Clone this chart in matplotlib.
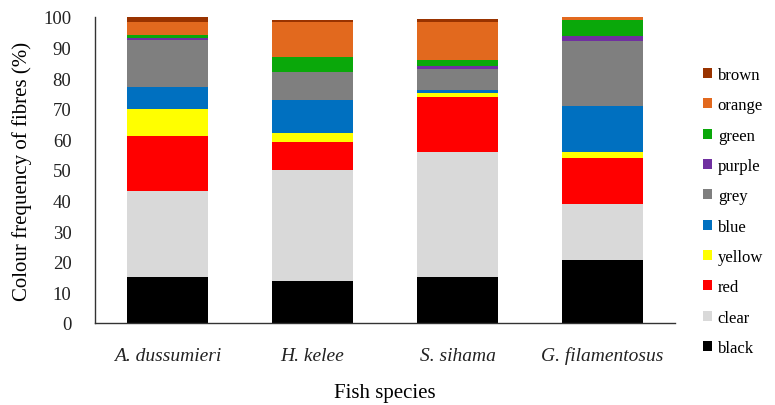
import matplotlib.pyplot as plt
import numpy as np
from matplotlib.patches import Patch

plt.rcParams['font.family'] = ['Liberation Serif', 'DejaVu Serif']

species = ['A. dussumieri', 'H. kelee', 'S. sihama', 'G. filamentosus']

# colour frequency (%) per species, bottom to top
black  = [15.0, 13.6, 15.0, 20.6]
clear  = [28.0, 36.4, 41.0, 18.3]
red    = [18.0,  9.0, 17.8, 15.0]
yellow = [ 9.0,  3.0,  1.3,  2.0]
blue   = [ 7.0, 11.0,  1.0, 15.0]
grey   = [15.4,  9.0,  7.0, 21.4]
purple = [ 0.6,  0.0,  0.8,  1.6]
green  = [ 1.0,  5.0,  2.1,  5.2]
orange = [ 4.3, 11.3, 12.3,  1.0]
brown  = [ 1.7,  0.8,  0.9,  0.0]

names = ['black', 'clear', 'red', 'yellow', 'blue', 'grey', 'purple', 'green', 'orange', 'brown']
series = [black, clear, red, yellow, blue, grey, purple, green, orange, brown]
colors = ['#000000', '#D9D9D9', '#FF0000', '#FFFF00', '#0070C0', '#7F7F7F',
          '#7030A0', '#0AA80A', '#E2691E', '#993300']

fig = plt.figure(figsize=(7.75, 4.06), dpi=100)
ax = fig.add_axes([0.1226, 0.202, 0.7484, 0.7537])

x = np.arange(len(species))
bottom = np.zeros(len(species))
for vals, c in zip(series, colors):
    ax.bar(x, vals, 0.565, bottom=bottom, color=c, linewidth=0)
    bottom += np.array(vals)

ax.set_xlim(-0.5, 3.5)
ax.set_ylim(0, 100)
ax.set_yticks(range(0, 101, 10))
ax.set_xticks(x)
ax.set_xticklabels(species, fontstyle='italic', fontsize=14)
ax.tick_params(axis='both', length=0, colors='#222222')
ax.tick_params(axis='y', pad=17, labelsize=13.5)
ax.tick_params(axis='x', pad=17)
for s in ['top', 'right']:
    ax.spines[s].set_visible(False)
for s in ['left', 'bottom']:
    ax.spines[s].set_color('#333333')
    ax.spines[s].set_linewidth(1)

ax.set_ylabel('Colour frequency of fibres (%)', fontsize=15, labelpad=8)
ax.set_xlabel('Fish species', fontsize=15, labelpad=13)

handles = [Patch(facecolor=c, edgecolor='none') for c in colors][::-1]
fig.legend(handles, names[::-1], loc='center left', bbox_to_anchor=(0.907, 0.4766),
           frameon=False, fontsize=12, handlelength=0.54, handleheight=0.54,
           handletextpad=0.35, labelspacing=0.86, borderpad=0, borderaxespad=0)

fig.savefig('out.png', dpi=100)
